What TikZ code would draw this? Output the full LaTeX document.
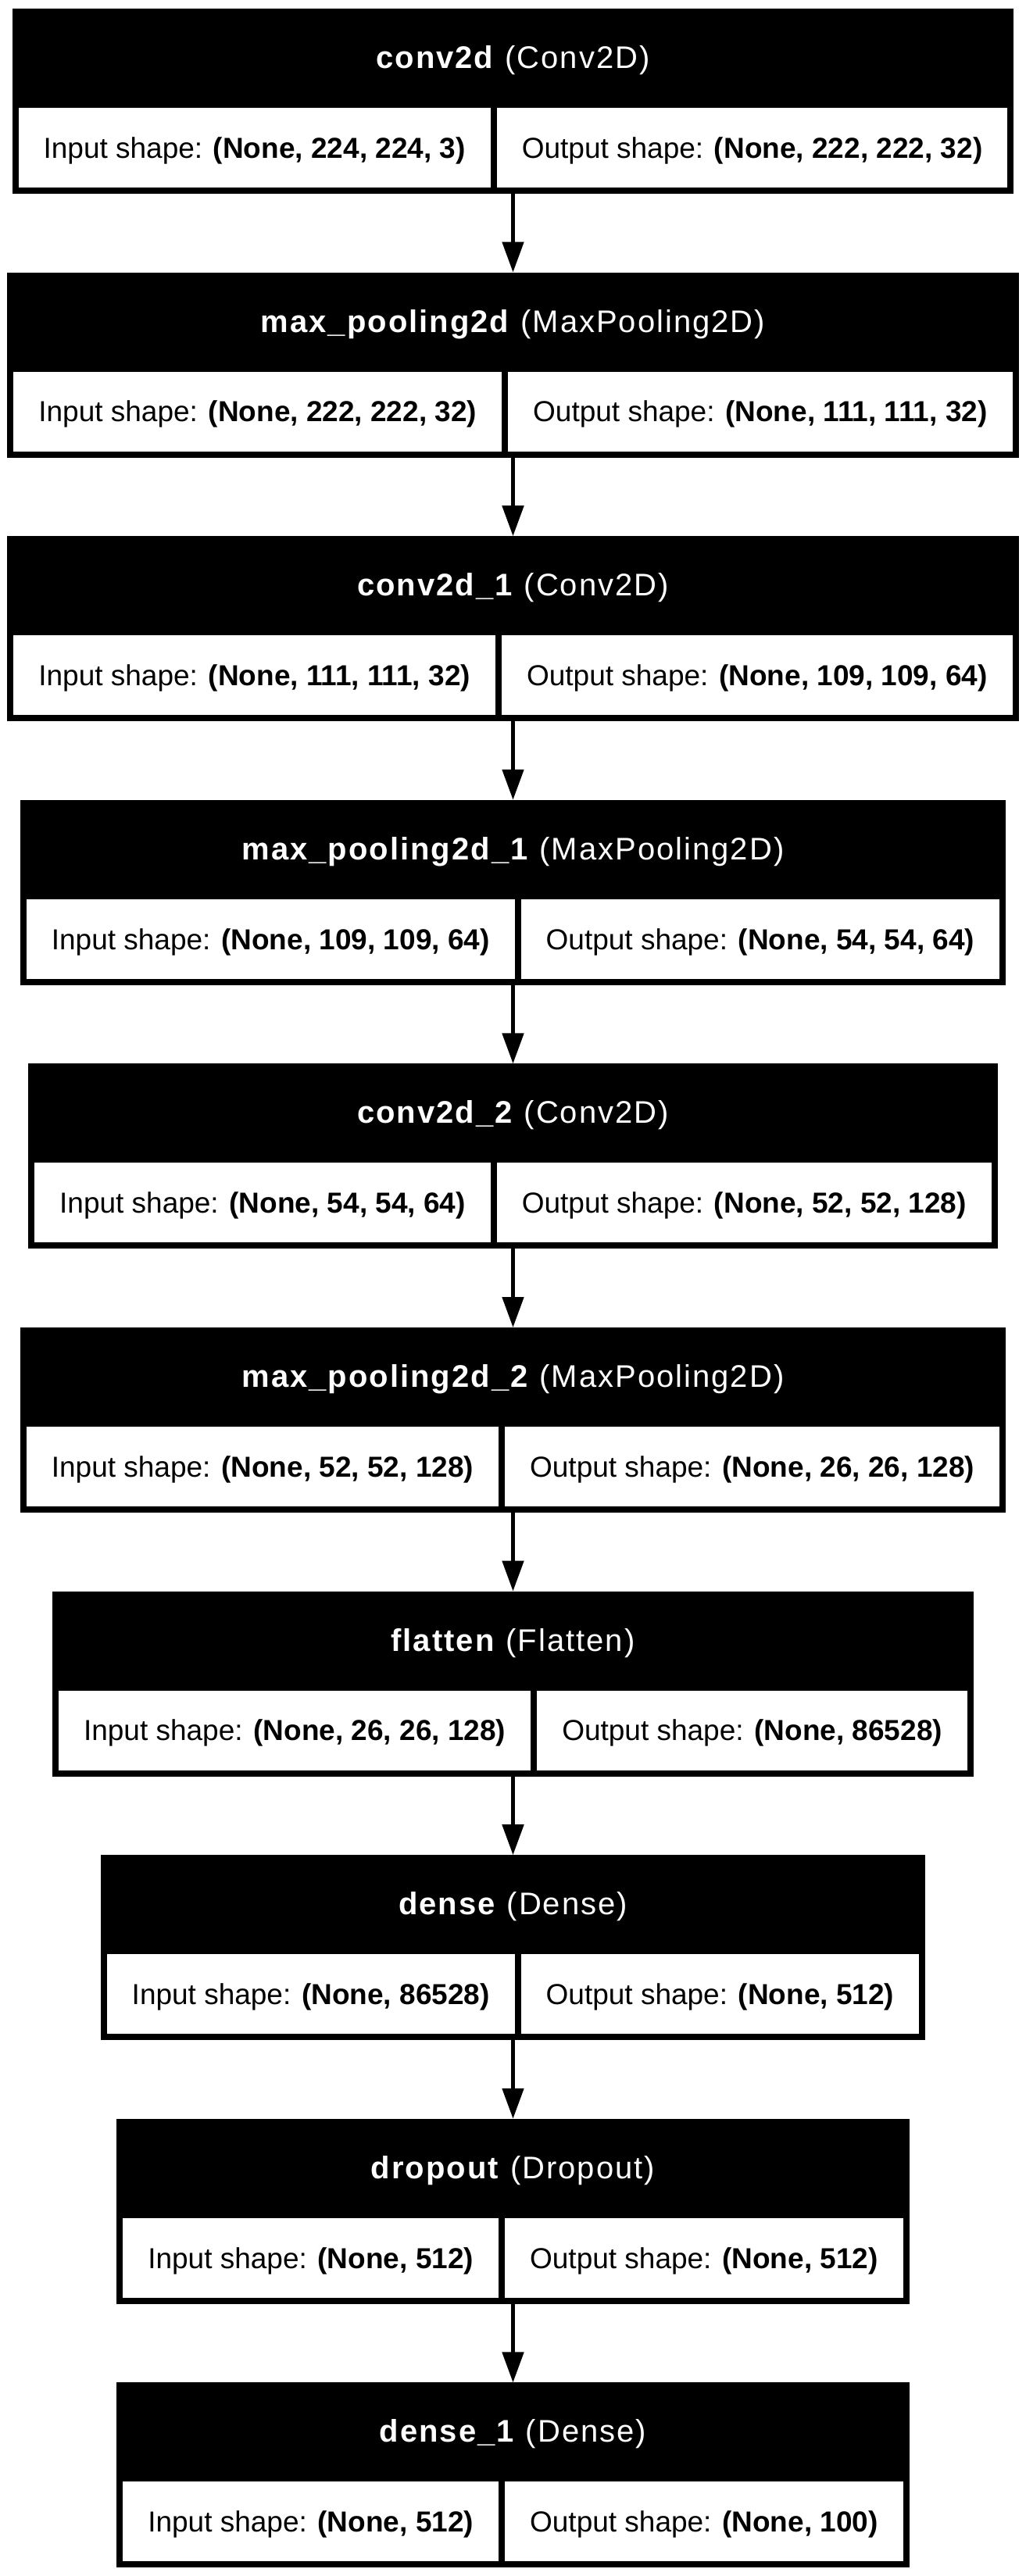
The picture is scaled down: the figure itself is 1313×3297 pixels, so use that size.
\documentclass[tikz,border=0pt]{standalone}
\usepackage{fontspec}
\setmainfont{Liberation Sans}
\newfontfamily\headfamily[LetterSpace=5]{Liberation Sans}
\usetikzlibrary{arrows.meta}
\newsavebox\mylbox
\newsavebox\myrbox
\newcommand\rowfont{\fontsize{37}{44}\selectfont}
\newcommand\hdfont{\headfamily\fontsize{40}{48}\selectfont}
\tikzset{
  blockbox/.style={fill=black,draw=none,inner sep=0pt,outer sep=0pt,minimum height=237pt},
  cellbox/.style={fill=white,draw=none,inner sep=0pt,outer sep=0pt,minimum height=102pt,
                  text height=26.5pt,text depth=0pt,align=center,font=\rowfont},
  headtext/.style={text=white,inner sep=0pt,outer sep=0pt,font=\hdfont},
  conn/.style={line width=5pt,-{Triangle[length=39pt,width=27pt]}}
}
% measure row texts outside the picture
\newcommand\measurerow[3]{%
  \sbox\mylbox{\rowfont Input shape: \textbf{#2}}%
  \sbox\myrbox{\rowfont Output shape: \textbf{#3}}%
  \expandafter\xdef\csname WL#1\endcsname{\the\wd\mylbox}%
  \expandafter\xdef\csname WR#1\endcsname{\the\wd\myrbox}%
}
\newcommand\mkblock[6]{%
  \pgfmathsetmacro\bwl{\csname WL#1\endcsname+64}%
  \pgfmathsetmacro\bwr{\csname WR#1\endcsname+64}%
  \pgfmathsetmacro\bww{\bwl+\bwr+24}%
  \pgfmathsetmacro\bxl{656.5-\bww/2}%
  \pgfmathsetmacro\byt{11+#2*337.6}%
  \node[blockbox,minimum width=\bww pt,anchor=north] (#1) at (656.5,\byt) {};
  \node[headtext,anchor=base] (#1-head) at (656.5,\byt+76.5) {\textbf{#3} (#4)};
  \node[cellbox,minimum width=\bwl pt,anchor=north west] (#1-in) at (\bxl+8,\byt+127) {Input shape: \textbf{#5}};
  \node[cellbox,minimum width=\bwr pt,anchor=north west] (#1-out) at (\bxl+16+\bwl,\byt+127) {Output shape: \textbf{#6}};
}
\begin{document}
\measurerow{b1}{(None, 224, 224, 3)}{(None, 222, 222, 32)}%
\measurerow{b2}{(None, 222, 222, 32)}{(None, 111, 111, 32)}%
\measurerow{b3}{(None, 111, 111, 32)}{(None, 109, 109, 64)}%
\measurerow{b4}{(None, 109, 109, 64)}{(None, 54, 54, 64)}%
\measurerow{b5}{(None, 54, 54, 64)}{(None, 52, 52, 128)}%
\measurerow{b6}{(None, 52, 52, 128)}{(None, 26, 26, 128)}%
\measurerow{b7}{(None, 26, 26, 128)}{(None, 86528)}%
\measurerow{b8}{(None, 86528)}{(None, 512)}%
\measurerow{b9}{(None, 512)}{(None, 512)}%
\measurerow{b10}{(None, 512)}{(None, 100)}%
\begin{tikzpicture}[x=1pt,y=-1pt]
\fill[white] (0,0) rectangle (1313,3297);
\useasboundingbox (0,0) rectangle (1313,3297);
\mkblock{b1}{0}{conv2d}{Conv2D}{(None, 224, 224, 3)}{(None, 222, 222, 32)}
\mkblock{b2}{1}{max\_pooling2d}{MaxPooling2D}{(None, 222, 222, 32)}{(None, 111, 111, 32)}
\mkblock{b3}{2}{conv2d\_1}{Conv2D}{(None, 111, 111, 32)}{(None, 109, 109, 64)}
\mkblock{b4}{3}{max\_pooling2d\_1}{MaxPooling2D}{(None, 109, 109, 64)}{(None, 54, 54, 64)}
\mkblock{b5}{4}{conv2d\_2}{Conv2D}{(None, 54, 54, 64)}{(None, 52, 52, 128)}
\mkblock{b6}{5}{max\_pooling2d\_2}{MaxPooling2D}{(None, 52, 52, 128)}{(None, 26, 26, 128)}
\mkblock{b7}{6}{flatten}{Flatten}{(None, 26, 26, 128)}{(None, 86528)}
\mkblock{b8}{7}{dense}{Dense}{(None, 86528)}{(None, 512)}
\mkblock{b9}{8}{dropout}{Dropout}{(None, 512)}{(None, 512)}
\mkblock{b10}{9}{dense\_1}{Dense}{(None, 512)}{(None, 100)}
\foreach \a/\b in {b1/b2,b2/b3,b3/b4,b4/b5,b5/b6,b6/b7,b7/b8,b8/b9,b9/b10}
  \draw[conn] (\a.south) -- (\b.north);
\end{tikzpicture}
\end{document}
